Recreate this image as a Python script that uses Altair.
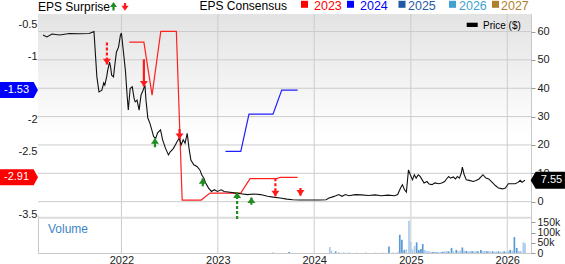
import altair as alt
import pandas as pd

FONT = "Liberation Sans"

# ---------------- price history ($) ----------------
price_dates = [
    "2021-03-10", "2021-03-25", "2021-04-13", "2021-05-12", "2021-06-18", "2021-07-26", "2021-09-01", "2021-09-19",
    "2021-09-30", "2021-10-08", "2021-10-19", "2021-10-26", "2021-10-30", "2021-11-06", "2021-11-10", "2021-11-17",
    "2021-11-21", "2021-11-25", "2021-12-02", "2021-12-06", "2021-12-13", "2021-12-21", "2021-12-28", "2022-01-01",
    "2022-01-08", "2022-01-16", "2022-01-23", "2022-01-27", "2022-02-03", "2022-02-11", "2022-02-18", "2022-02-22",
    "2022-03-01", "2022-03-09", "2022-03-16", "2022-03-24", "2022-03-31", "2022-04-04", "2022-04-11", "2022-04-19",
    "2022-04-26", "2022-05-03", "2022-05-11", "2022-05-18", "2022-05-29", "2022-06-06", "2022-06-17", "2022-06-28",
    "2022-07-05", "2022-07-17", "2022-07-24", "2022-07-31", "2022-08-08", "2022-08-15", "2022-08-23", "2022-08-30",
    "2022-09-07", "2022-09-14", "2022-09-21", "2022-10-02", "2022-10-14", "2022-10-25", "2022-11-01", "2022-11-09",
    "2022-11-16", "2022-11-27", "2022-12-08", "2022-12-19", "2022-12-30", "2023-01-14", "2023-01-25", "2023-02-09",
    "2023-03-04", "2023-03-29", "2023-04-24", "2023-05-17", "2023-06-12", "2023-07-08", "2023-07-30", "2023-08-25",
    "2023-09-20", "2023-10-12", "2023-11-07", "2023-12-25", "2024-01-20", "2024-02-15", "2024-02-26", "2024-03-08",
    "2024-03-23", "2024-04-03", "2024-04-15", "2024-04-29", "2024-05-11", "2024-06-05", "2024-06-28", "2024-07-24",
    "2024-08-19", "2024-09-10", "2024-10-06", "2024-11-01", "2024-11-12", "2024-11-23", "2024-11-30", "2024-12-08",
    "2024-12-15", "2024-12-23", "2024-12-30", "2025-01-07", "2025-01-14", "2025-01-21", "2025-01-29", "2025-02-05",
    "2025-02-13", "2025-02-20", "2025-03-03", "2025-03-11", "2025-03-22", "2025-04-02", "2025-04-17", "2025-04-28",
    "2025-05-09", "2025-05-16", "2025-05-24", "2025-05-31", "2025-06-11", "2025-06-19", "2025-06-26", "2025-07-04",
    "2025-07-11", "2025-07-15", "2025-07-22", "2025-07-30", "2025-08-10", "2025-08-25", "2025-09-05", "2025-09-16",
    "2025-10-01", "2025-10-12", "2025-10-23", "2025-11-07", "2025-11-18", "2025-11-29", "2025-12-14", "2025-12-25",
    "2026-01-05", "2026-01-20", "2026-01-31", "2026-02-11", "2026-02-19", "2026-02-26", "2026-03-09",
]
price_close = [
    58.8, 58.1, 59.1, 58.8, 59.3, 59.2, 59.3, 60.0,
    44.0, 38.7, 39.3, 41.9, 41.1, 44.0, 46.3, 49.2,
    47.5, 44.6, 44.0, 47.5, 52.7, 54.5, 58.6, 59.5,
    53.3, 46.3, 36.9, 32.3, 39.9, 40.5, 36.4, 35.2,
    35.8, 32.3, 37.5, 39.3, 41.1, 35.8, 29.5, 27.6,
    25.3, 22.9, 22.4, 24.3, 25.3, 21.8, 18.8, 16.5,
    17.6, 18.8, 20.0, 21.2, 22.4, 20.0, 21.8, 20.6,
    24.1, 18.8, 14.7, 13.0, 12.4, 11.2, 9.5, 8.3,
    6.6, 4.8, 3.6, 4.2, 3.6, 4.2, 3.6, 3.4,
    3.1, 2.8, 2.5, 2.7, 2.5, 1.9, 1.6, 1.3,
    0.9, 0.7, 0.6, 0.6, 0.6, 0.7, 1.3, 1.6,
    2.1, 2.5, 1.9, 2.5, 2.1, 2.5, 2.4, 2.2,
    2.4, 2.1, 2.3, 2.1, 2.5, 4.8, 6.0, 4.2,
    3.4, 11.2, 9.5, 7.7, 9.5, 8.3, 9.5, 8.9,
    7.7, 6.6, 7.1, 6.2, 6.0, 6.6, 6.3, 6.6,
    7.1, 8.0, 8.9, 8.3, 8.7, 8.0, 8.9, 8.3,
    10.1, 12.2, 9.5, 7.7, 7.5, 7.1, 7.5, 8.0,
    9.5, 8.3, 8.0, 6.6, 5.6, 4.8, 4.5, 4.8,
    6.3, 6.3, 6.3, 6.8, 7.5, 6.8, 7.55,
]

# ---------------- EPS consensus by fiscal year ----------------
eps23_dates = ["2022-01-31", "2022-03-27", "2022-04-27", "2022-05-30", "2022-07-28", "2022-08-19", "2022-10-30",
               "2022-12-02", "2023-03-29", "2023-05-03", "2023-08-14", "2023-08-25", "2023-10-30"]
eps23_values = [-0.77, -0.77, -1.61, -0.60, -0.60, -3.27, -3.27, -3.16, -3.16, -2.93, -2.93, -2.91, -2.91]

eps24_dates = ["2023-01-30", "2023-03-29", "2023-04-29", "2023-07-29", "2023-08-31", "2023-10-30"]
eps24_values = [-2.50, -2.50, -1.91, -1.91, -1.53, -1.53]

# ---------------- EPS surprises (arrows drawn against price) ----------------
surprise_dates = ["2021-11-07", "2022-03-27", "2022-05-08", "2022-08-09", "2022-11-05",
                  "2023-03-15", "2023-05-08", "2023-08-07", "2023-11-10"]
surprise_result = ["miss", "miss", "beat", "miss", "beat", "beat", "beat", "miss", "miss"]
surprise_style = ["dashed", "solid", "solid", "solid", "solid", "dashed", "solid", "dashed", "solid"]
arrow_tail = [56.1, 50.2, 19.2, 25.6, 5.4, -6.1, -1.1, 8.3, 4.8]
arrow_tip = [48.4, 40.6, 22.4, 22.1, 8.3, 3.3, 1.5, 1.9, 2.1]

# ---------------- trading volume (thousands of shares) ----------------
volume_dates = [
    "2023-07-29", "2023-09-28",
    "2024-02-29", "2024-03-06", "2024-03-22", "2024-04-03", "2024-04-22", "2024-05-11", "2024-06-10", "2024-07-15",
    "2024-08-20", "2024-09-15",
    "2024-10-10", "2024-10-25", "2024-11-12", "2024-11-20", "2024-11-28", "2024-12-07", "2024-12-15", "2024-12-25",
    "2024-12-31",
    "2025-01-07", "2025-01-15", "2025-01-23", "2025-01-31", "2025-02-08", "2025-02-15", "2025-02-23", "2025-03-03",
    "2025-03-11", "2025-03-19", "2025-03-26",
    "2025-04-02", "2025-04-10", "2025-04-17", "2025-04-25", "2025-05-02", "2025-05-10", "2025-05-17", "2025-05-24",
    "2025-06-04", "2025-06-11", "2025-06-22", "2025-06-29",
    "2025-07-07", "2025-07-15", "2025-07-22", "2025-07-30", "2025-08-06", "2025-08-13", "2025-08-21", "2025-08-28",
    "2025-09-05", "2025-09-12", "2025-09-23", "2025-10-01",
    "2025-10-08", "2025-10-16", "2025-10-23", "2025-10-30", "2025-11-07", "2025-11-14", "2025-11-21", "2025-11-29",
    "2025-12-06", "2025-12-14", "2025-12-21", "2025-12-28",
    "2026-01-05", "2026-01-12", "2026-01-20", "2026-01-28", "2026-02-06", "2026-02-14", "2026-02-21", "2026-03-03",
    "2026-03-09",
]
volume_k = [
    4, 5,
    29, 12, 8, 4, 3, 3, 2, 2, 2, 2,
    32, 3, 4, 89, 65, 15, 18, 158, 56,
    18, 34, 52, 15, 20, 44, 15, 10, 8, 6, 5,
    5, 4, 4, 5, 6, 8, 10, 8, 25, 10, 15, 8,
    12, 27, 12, 10, 8, 10, 8, 8, 10, 8, 15, 10,
    10, 8, 10, 8, 8, 6, 8, 8, 6, 8, 8, 6,
    10, 15, 12, 78, 25, 10, 10, 52, 48,
]
volume_side = [
    "down", "up",
    "down", "down", "up", "down", "down", "down", "down", "down", "down", "down",
    "up", "down", "down", "up", "up", "up", "down", "down", "down",
    "down", "down", "up", "up", "up", "up", "down", "down", "down", "down", "up",
    "down", "up", "down", "down", "up", "down", "down", "up", "up", "down", "up", "down",
    "down", "up", "down", "up", "down", "down", "up", "down", "down", "up", "up", "down",
    "down", "up", "down", "down", "up", "down", "down", "up", "down", "down", "up", "down",
    "down", "up", "down", "up", "up", "down", "down", "down", "down",
]

legend_years = ["2023", "2024", "2025", "2026", "2027"]
legend_colors = ["#ff0000", "#0000ff", "#1f5aa6", "#3ea1cf", "#b07f2c"]

price_ticks = [0, 10, 20, 30, 40, 50, 60]
year_ticks = ["2022-01-01", "2023-01-01", "2024-01-01", "2025-01-01", "2026-01-01"]

# ---------------- frames ----------------
price_df = pd.DataFrame({"date": price_dates, "price": price_close})
eps23_df = pd.DataFrame({"date": eps23_dates, "eps": eps23_values})
eps24_df = pd.DataFrame({"date": eps24_dates, "eps": eps24_values})
arrows_df = pd.DataFrame({"date": surprise_dates, "result": surprise_result, "style": surprise_style,
                          "tail": arrow_tail, "tip": arrow_tip})
volume_df = pd.DataFrame({"date": volume_dates, "volume": volume_k, "side": volume_side})
one = pd.DataFrame({"k": [0]})

# ---------------- layout ----------------
W, H = 493, 239
MAIN_H = 202
RED, GREEN = "#ff1a1a", "#228b22"
TXT = "#222222"
GRID = "#cccccc"

x_scale = alt.Scale(domain=[alt.DateTime(year=2021, month=3, date=10),
                            alt.DateTime(year=2026, month=3, date=13)])
x_axis = alt.Axis(values=[alt.DateTime(year=y, month=1, date=1) for y in range(2022, 2027)],
                  format="%Y", grid=False, domain=False, ticks=False,
                  labelPadding=1, labelFontSize=11, labelColor=TXT, labelFont=FONT, title=None)
X = alt.X("date:T", scale=x_scale, axis=x_axis)

price_scale = alt.Scale(domain=[-18.1, 66.18], nice=False, zero=False)
eps_scale = alt.Scale(domain=[-4.108, -0.326], nice=False, zero=False)
vol_scale = alt.Scale(domain=[0, 1170], nice=False, zero=False)

price_axis = alt.Axis(orient="right", values=price_ticks, grid=False, labelOverlap=False,
                      domain=False, tickSize=4, tickColor="#999999", labelPadding=2, labelFontSize=11,
                      labelColor=TXT, labelFont=FONT, title=None)
eps_axis = alt.Axis(orient="left", values=[-3.5, -2.5, -2, -1, -0.5], grid=False, domain=False,
                    ticks=False, labelPadding=1, labelFontSize=11, labelColor=TXT, labelFont=FONT,
                    labelOverlap=False, labelExpr="'' + datum.value", title=None)
vol_axis = alt.Axis(orient="right", values=[0, 50, 100, 150], grid=False, domain=False, tickSize=4,
                    tickColor="#999999", labelPadding=2, labelFontSize=10.5, labelColor=TXT, labelFont=FONT,
                    labelOverlap=False, labelFlush=False,
                    labelExpr="datum.value == 0 ? '0' : datum.value + 'k'", title=None)

DOWN_HEAD = "M-1,-0.7L1,-0.7L0,0.7Z"
UP_HEAD = "M-1,0.7L1,0.7L0,-0.7Z"
BADGE_RIGHT = "M-1,-0.42L0.77,-0.42L1,0L0.77,0.42L-1,0.42Z"
BADGE_LEFT = "M-1,0L-0.71,-0.5L1,-0.5L1,0.5L-0.71,0.5Z"
dash_scale = alt.Scale(domain=["solid", "dashed"], range=[[1, 0], [3, 2]])


def text(txt, x, y, size=12, color="#000000", align="left"):
    return alt.Chart(one).mark_text(text=txt, align=align, baseline="middle", fontSize=size,
                                    color=color, font=FONT).encode(x=alt.value(x), y=alt.value(y))


# shaded background of the price panel
backdrop = alt.Chart(one).mark_rect(
    fill=alt.LinearGradient(gradient="linear", x1=0, y1=0, x2=0, y2=1,
                            stops=[alt.GradientStop(offset=0, color="#e3e3e3"),
                                   alt.GradientStop(offset=0.6, color="#ffffff"),
                                   alt.GradientStop(offset=1, color="#ffffff")])
).encode(x=alt.value(0), x2=alt.value(W), y=alt.value(0), y2=alt.value(MAIN_H))

# grid lines: price levels and year boundaries
h_grid = alt.Chart(pd.DataFrame({"p": price_ticks})).mark_rule(color=GRID, strokeWidth=1).encode(
    y=alt.Y("p:Q", scale=price_scale, axis=None))
v_grid = alt.Chart(pd.DataFrame({"date": year_ticks})).mark_rule(color=GRID, strokeWidth=1).encode(X)

# volume bars
volume = alt.Chart(volume_df).mark_bar(width=1.7).encode(
    X,
    y=alt.Y("volume:Q", scale=vol_scale, axis=vol_axis),
    color=alt.Color("side:N", scale=alt.Scale(domain=["up", "down"], range=["#5b9bd5", "#aacbeb"]), legend=None),
)

separator = alt.Chart(one).mark_rule(color="#dcdcdc", strokeWidth=2).encode(
    x=alt.value(0), x2=alt.value(W), y=alt.value(203.7))

# consensus lines
eps23_line = alt.Chart(eps23_df).mark_line(color="#ff2020", strokeWidth=1.2).encode(
    X, y=alt.Y("eps:Q", scale=eps_scale, axis=eps_axis))
eps24_line = alt.Chart(eps24_df).mark_line(color="#1f1fff", strokeWidth=1.2).encode(
    X, y=alt.Y("eps:Q", scale=eps_scale, axis=None))

# price line
price_line = alt.Chart(price_df).mark_line(color="#111111", strokeWidth=1.1).encode(
    X, y=alt.Y("price:Q", scale=price_scale, axis=price_axis))

# surprise arrows
arrow_layers = []
for result, color, head, off in [("miss", RED, DOWN_HEAD, -2.8), ("beat", GREEN, UP_HEAD, 2.8)]:
    base = alt.Chart(arrows_df).transform_filter(f"datum.result == '{result}'")
    arrow_layers.append(base.mark_rule(color=color, strokeWidth=2.2).encode(
        X,
        y=alt.Y("tail:Q", scale=price_scale, axis=None),
        y2="tip:Q",
        strokeDash=alt.StrokeDash("style:N", scale=dash_scale, legend=None),
    ))
    arrow_layers.append(base.mark_point(shape=head, size=64, filled=True, color=color, opacity=1,
                                        strokeWidth=0, yOffset=off).encode(
        X, y=alt.Y("tip:Q", scale=price_scale, axis=None)))

# value badges
b24 = pd.DataFrame({"eps": [eps24_values[-1]], "label": [f"{eps24_values[-1]:.2f}"]})
b23 = pd.DataFrame({"eps": [eps23_values[-1]], "label": [f"{eps23_values[-1]:.2f}"]})
bp = pd.DataFrame({"price": [price_close[-1]], "label": [f"{price_close[-1]:.2f}"]})

badges = []
for df, color in [(b24, "#0000ff"), (b23, "#ff0000")]:
    badges.append(alt.Chart(df).mark_point(shape=BADGE_RIGHT, size=1444, filled=True, color=color,
                                           opacity=1, strokeWidth=0).encode(
        x=alt.value(-19), y=alt.Y("eps:Q", scale=eps_scale, axis=None)))
    badges.append(alt.Chart(df).mark_text(align="left", baseline="middle", color="white", fontSize=11,
                                          font=FONT).encode(
        x=alt.value(-34), y=alt.Y("eps:Q", scale=eps_scale, axis=None), text="label:N"))
badges.append(alt.Chart(bp).mark_point(shape=BADGE_LEFT, size=1176, filled=True, color="#000000",
                                       opacity=1, strokeWidth=0).encode(
    x=alt.value(509.8), y=alt.Y("price:Q", scale=price_scale, axis=None)))
badges.append(alt.Chart(bp).mark_text(align="center", baseline="middle", color="white", fontSize=11,
                                      font=FONT).encode(
    x=alt.value(513.5), y=alt.Y("price:Q", scale=price_scale, axis=None), text="label:N"))

# header legend
legend = [
    text("EPS Surprise", 0, -7),
    alt.Chart(one).mark_rule(color=GREEN, strokeWidth=2.2).encode(
        x=alt.value(75.5), y=alt.value(-9), y2=alt.value(-3.5)),
    alt.Chart(one).mark_point(shape=UP_HEAD, size=50, filled=True, color=GREEN, opacity=1, strokeWidth=0).encode(
        x=alt.value(75.5), y=alt.value(-9.5)),
    alt.Chart(one).mark_rule(color=RED, strokeWidth=2.2).encode(
        x=alt.value(87), y=alt.value(-11), y2=alt.value(-5)),
    alt.Chart(one).mark_point(shape=DOWN_HEAD, size=50, filled=True, color=RED, opacity=1, strokeWidth=0).encode(
        x=alt.value(87), y=alt.value(-5.8)),
    text("EPS Consensus", 161.5, -8.5),
]
square_x = [266.5, 312.5, 364, 414.5, 457.5]
label_x = [276, 322, 370, 421, 463]
for yr, col, sx, lx in zip(legend_years, legend_colors, square_x, label_x):
    legend.append(alt.Chart(one).mark_square(size=49, color=col, opacity=1).encode(
        x=alt.value(sx), y=alt.value(-9.7)))
    legend.append(text(yr, lx, -8.5, size=12.5, color=col))

legend += [
    alt.Chart(one).mark_rect(color="#000000").encode(
        x=alt.value(428.7), x2=alt.value(439.7), y=alt.value(8.7), y2=alt.value(13)),
    text("Price ($)", 445, 11.5, size=10),
    text("Volume", 10, 215, size=12, color="#3d85c6"),
]

chart = alt.layer(
    backdrop, h_grid, v_grid, volume, separator, eps23_line, eps24_line, price_line,
    *arrow_layers, *badges, *legend
).resolve_scale(
    y="independent"
).properties(
    width=W, height=H,
    autosize=alt.AutoSizeParams(type="none"),
    padding={"left": 38, "top": 14, "right": 34, "bottom": 11},
    background="white",
).configure(font=FONT).configure_view(stroke="#c8c8c8")

chart.save("out.html", embed_options={"renderer": "svg", "actions": False})
